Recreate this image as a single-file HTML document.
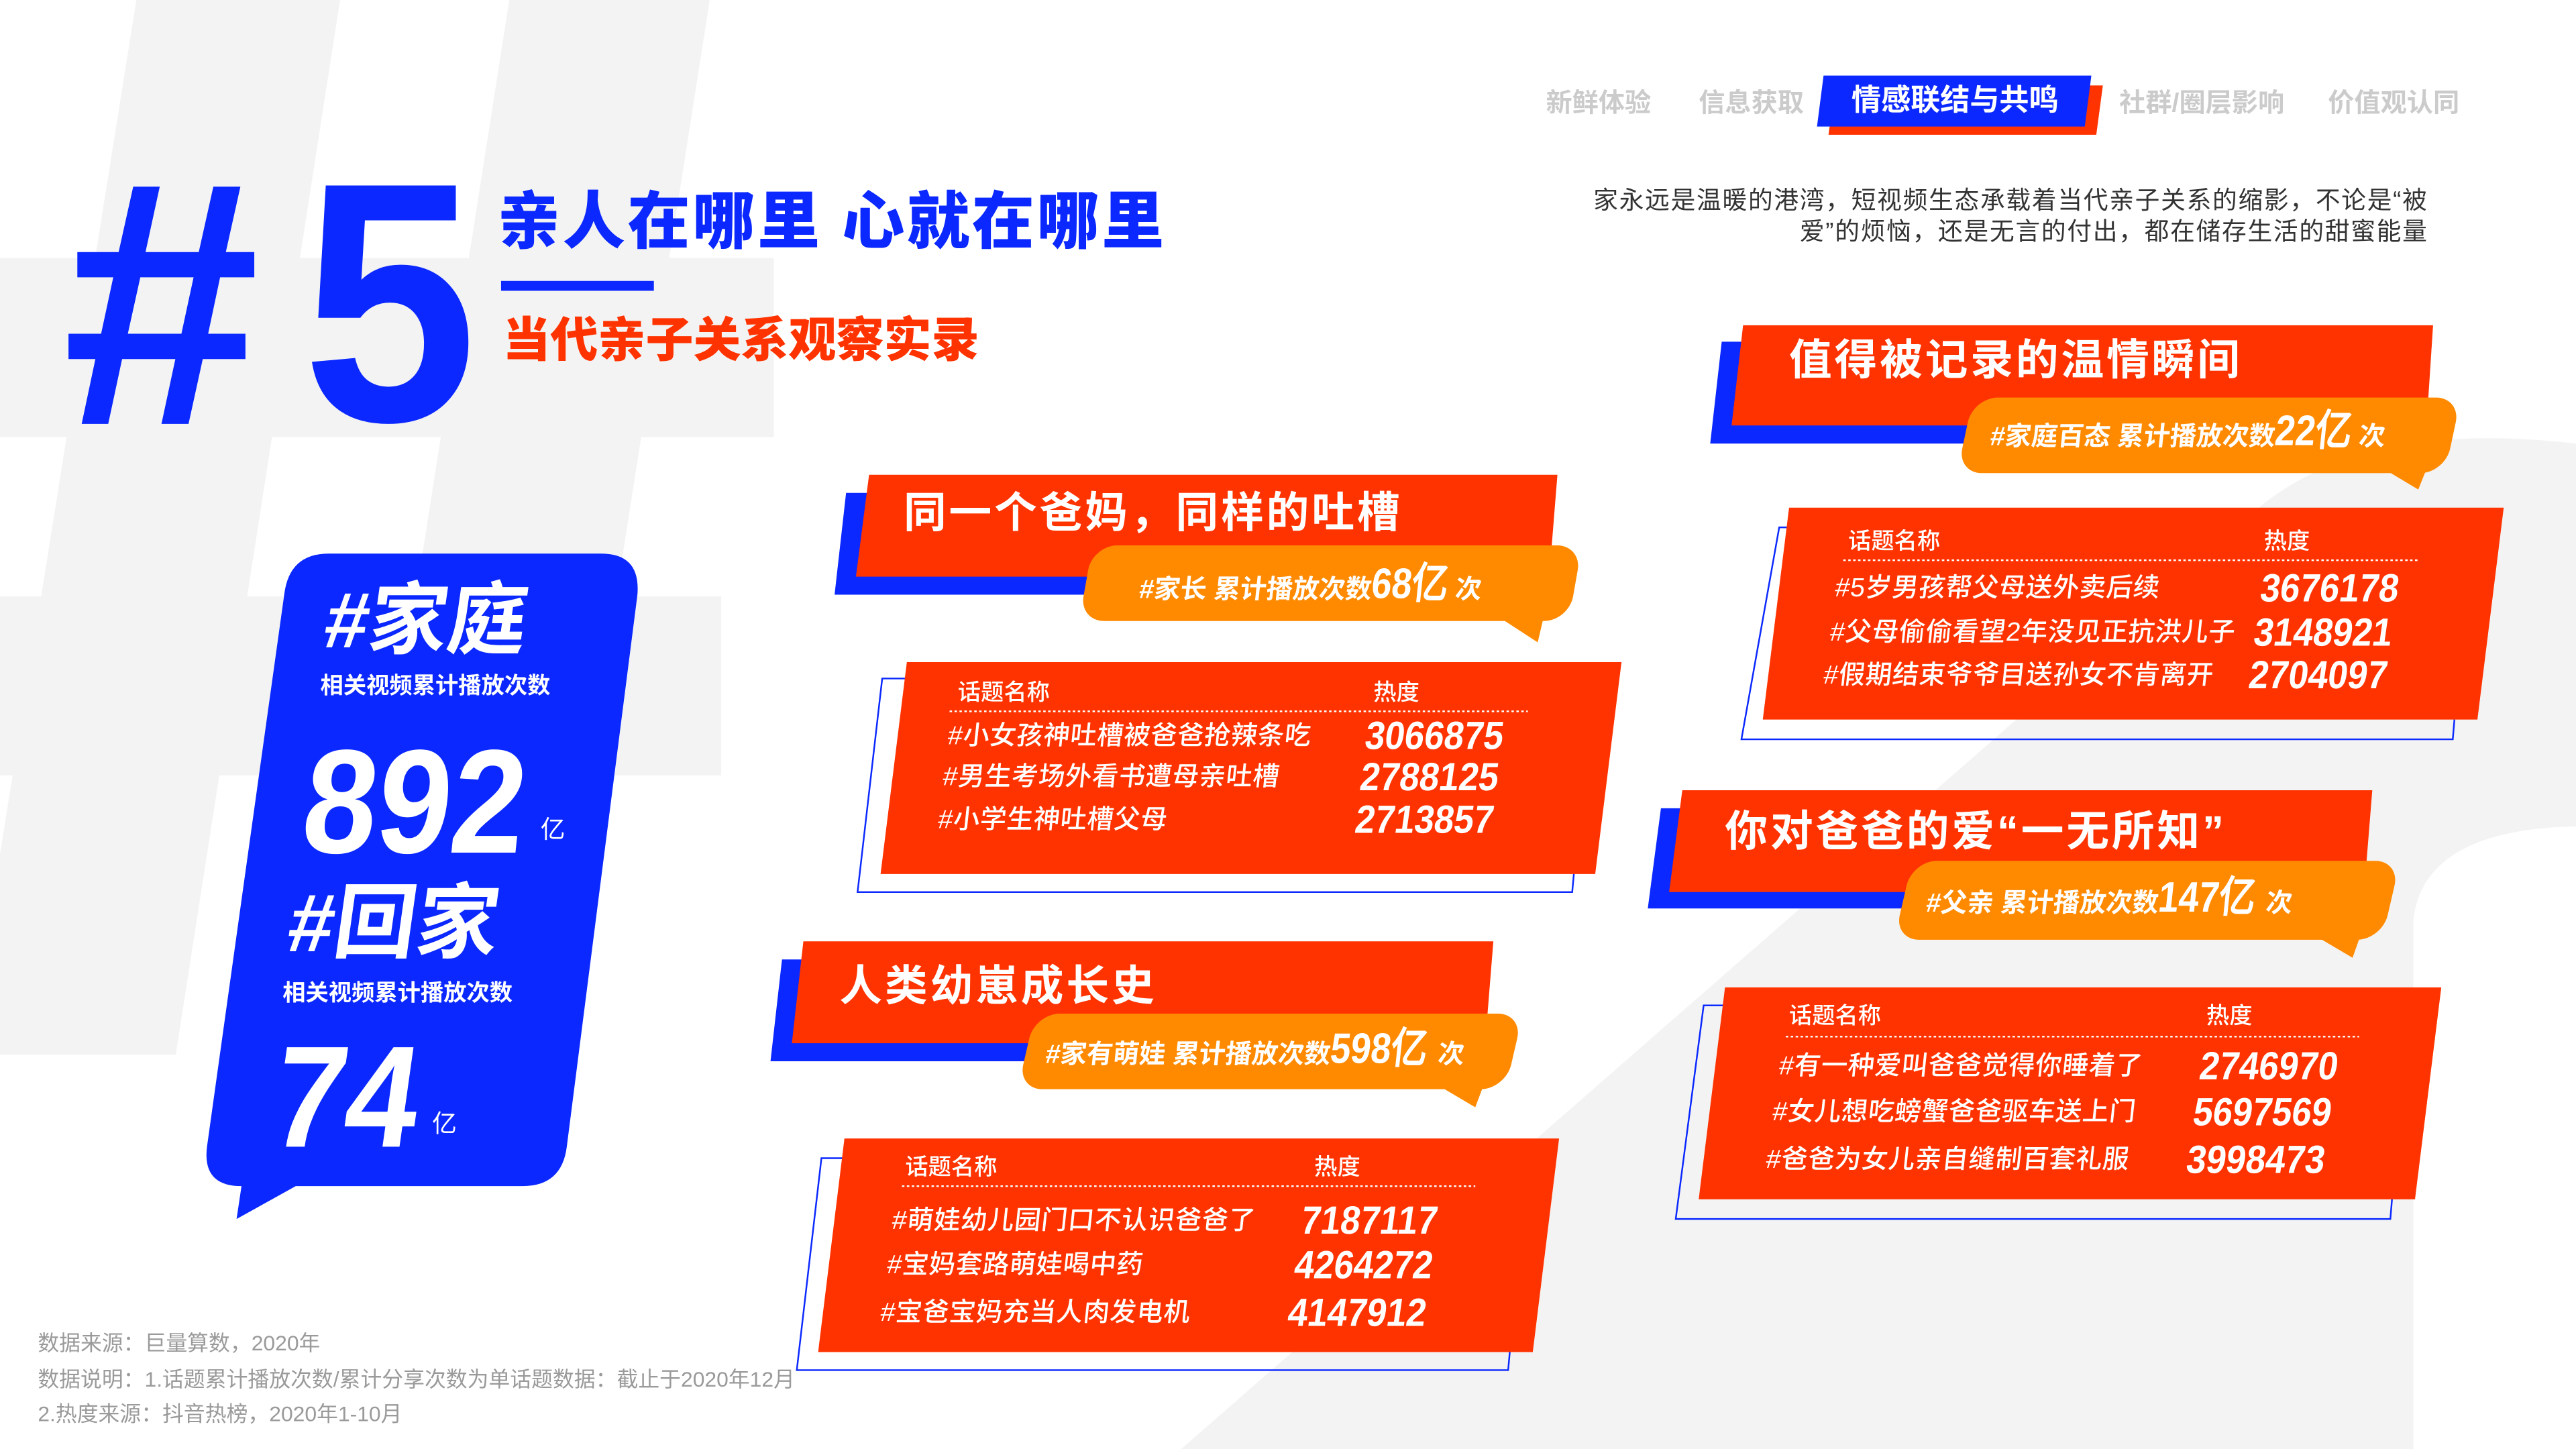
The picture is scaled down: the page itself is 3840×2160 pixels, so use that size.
<!DOCTYPE html>
<html><head><meta charset="utf-8">
<style>
html,body{margin:0;padding:0;width:3840px;height:2160px;overflow:hidden;background:#fff}
#s{position:absolute;left:0;top:0;width:1568px;height:882px;transform:scale(2.44898);transform-origin:0 0;font-family:"Liberation Sans","Noto Sans CJK SC",sans-serif}
.t{position:absolute;white-space:nowrap;line-height:1}
.w{color:#fff}
.ti{font-size:26px;font-weight:700;color:#fff;letter-spacing:1.6px}
.ob{font-size:16px;font-weight:700;color:#fff;transform:skewX(-6deg)}
.ob b{font-size:26px;font-family:"Liberation Sans",sans-serif;font-weight:700;display:inline-block;transform:scaleX(.85);transform-origin:left;margin-right:-4px}
.hd{font-size:14px;font-weight:500;color:#fff}
.nm{font-size:16px;font-weight:500;color:#fff;transform:skewX(-6deg);letter-spacing:.3px}
.nu{font-size:24px;font-weight:700;color:#fff;transform:skewX(-8deg) scaleX(.9);transform-origin:left}
.nav{font-size:16px;font-weight:700;color:#cbcbcb}
.ft{font-size:13px;color:#9a9a9a}
</style></head><body>
<div id="s">
<svg width="1568" height="882" viewBox="0 0 1568 882" style="position:absolute;left:0;top:0">
<g fill="#f3f3f3">
<polygon points="83,0 207,0 107,642 0,642 0,520"/>
<polygon points="310,0 432,0 358,472 236,472"/>
<rect x="0" y="157" width="471" height="109"/>
<rect x="0" y="363" width="439" height="109"/>
<path d="M719,882 L1375,309 Q1440,255 1568,270 L1568,503 Q1475,505 1469,560 L1469,882 Z"/>
</g>
<polygon points="1117,52 1280,52 1276,82 1113,82" fill="#ff3300"/>
<polygon points="1110,46 1273,46 1269,77 1106,77" fill="#0a28ff"/>
<rect x="305" y="171" width="93" height="6" fill="#0a28ff"/>
<path d="M200,337 L366,337 Q390,337 388,362 L345,698 Q342,722 318,722 L180,722 L144,742 L147,722 Q123,722 126,698 L173,362 Q176,337 200,337 Z" fill="#0a28ff"/>
<g fill="#0a28ff">
<polygon points="515,300 900,300 895,362 508,362"/>
<polygon points="1048,208 1300,208 1296,270 1041,270"/>
<polygon points="476,584 880,584 876,646 469,646"/>
<polygon points="1011,492 1400,492 1396,553 1003,553"/>
</g>
<g fill="#ff3300">
<polygon points="529,289 948,289 943,351 521,351"/>
<polygon points="1061,198 1481,198 1477,259 1054,259"/>
<polygon points="489,573 909,573 904,635 482,635"/>
<polygon points="1024,481 1444,481 1439,543 1016,543"/>
</g>
<g fill="#ff8a00">
<rect x="0" y="0" width="298" height="46" rx="15" transform="translate(665,332) skewX(-10)"/>
<polygon points="913,376 940,374 936,391"/>
<rect x="0" y="0" width="297" height="46" rx="15" transform="translate(1201,242) skewX(-12)"/>
<polygon points="1452,286 1478,283 1472,298"/>
<rect x="0" y="0" width="297" height="46" rx="15" transform="translate(630,617) skewX(-13)"/>
<polygon points="876,661 904,658 898,674"/>
<rect x="0" y="0" width="297" height="48" rx="15" transform="translate(1164,524) skewX(-13)"/>
<polygon points="1410,570 1438,566 1432,583"/>
</g>
<g fill="none" stroke="#0a28ff" stroke-width="1">
<polyline points="552,413 537,413 522,543 957,543 958,532"/>
<polyline points="1088,321 1083,321 1060,450 1493,450 1494,438"/>
<polyline points="513,705 500,705 485,834 918,834 919,823"/>
<polyline points="1049,612 1037,612 1020,742 1455,742 1456,730"/>
</g>
<g fill="#ff3300">
<polygon points="552,403 987,403 971,532 536,532"/>
<polygon points="1089,309 1524,309 1508,438 1073,438"/>
<polygon points="514,693 949,693 933,823 498,823"/>
<polygon points="1050,601 1486,601 1470,730 1034,730"/>
</g>
<g stroke="#fff" stroke-width="1" stroke-dasharray="1.5,1.5">
<line x1="578" y1="433" x2="930" y2="433"/>
<line x1="1122" y1="341" x2="1472" y2="341"/>
<line x1="549" y1="722" x2="898" y2="722"/>
<line x1="1087" y1="631" x2="1436" y2="631"/>
</g>
</svg>

<div class="t" style="left:38px;top:79px;font-size:212px;font-weight:700;color:#0a28ff;font-family:'Liberation Sans',sans-serif;transform:scaleX(1.02);transform-origin:left">#</div>
<div class="t" style="left:184px;top:81px;font-size:208px;font-weight:700;color:#0a28ff;font-family:'Liberation Sans',sans-serif;transform:scaleX(.92);transform-origin:left">5</div>

<div class="t" style="left:303px;top:117px;font-size:38px;font-weight:900;color:#0a28ff;letter-spacing:1.5px">亲人在哪里&nbsp;心就在哪里</div>
<div class="t" style="left:306px;top:194px;font-size:29px;font-weight:900;color:#ff3300">当代亲子关系观察实录</div>

<div class="t nav" style="left:941px;top:56px">新鲜体验</div>
<div class="t nav" style="left:1034px;top:56px">信息获取</div>
<div class="t" style="left:1127px;top:52px;font-size:18px;font-weight:700;color:#fff">情感联结与共鸣</div>
<div class="t nav" style="left:1290px;top:56px">社群/圈层影响</div>
<div class="t nav" style="left:1417px;top:56px">价值观认同</div>

<div class="t" style="right:90px;top:113px;font-size:15px;line-height:19px;color:#333;text-align:right;letter-spacing:.7px">家永远是温暖的港湾，短视频生态承载着当代亲子关系的缩影，不论是“被<br>爱”的烦恼，还是无言的付出，都在储存生活的甜蜜能量</div>

<div class="t w" style="left:198px;top:355px;font-size:48px;font-weight:700;transform:skewX(-8deg)">#家庭</div>
<div class="t w" style="left:195px;top:410px;font-size:14px;font-weight:700">相关视频累计播放次数</div>
<div class="t w" style="left:185px;top:444px;font-size:90px;font-weight:700;font-family:'Liberation Sans',sans-serif;transform:skewX(-6deg) scaleX(.9);transform-origin:left">892</div>
<div class="t w" style="left:329px;top:498px;font-size:15px">亿</div>
<div class="t w" style="left:176px;top:537px;font-size:50px;font-weight:700;transform:skewX(-8deg)">#回家</div>
<div class="t w" style="left:172px;top:597px;font-size:14px;font-weight:700">相关视频累计播放次数</div>
<div class="t w" style="left:167px;top:624px;font-size:88px;font-weight:700;font-family:'Liberation Sans',sans-serif;transform:skewX(-8deg) scaleX(.9);transform-origin:left">74</div>
<div class="t w" style="left:263px;top:677px;font-size:15px">亿</div>

<div class="t ti" style="left:550px;top:299px">同一个爸妈，同样的吐槽</div>
<div class="t ti" style="left:1089px;top:206px">值得被记录的温情瞬间</div>
<div class="t ti" style="left:511px;top:587px">人类幼崽成长史</div>
<div class="t ti" style="left:1050px;top:493px">你对爸爸的爱“一无所知”</div>

<div class="t ob" style="left:694px;top:342px">#家长 累计播放次数<b>68亿</b>次</div>
<div class="t ob" style="left:1212px;top:249px">#家庭百态 累计播放次数<b>22亿</b>次</div>
<div class="t ob" style="left:637px;top:625px">#家有萌娃 累计播放次数<b>598亿</b>次</div>
<div class="t ob" style="left:1173px;top:533px">#父亲 累计播放次数<b>147亿</b>次</div>

<div class="t hd" style="left:583px;top:414px">话题名称</div><div class="t hd" style="left:836px;top:414px">热度</div>
<div class="t nm" style="left:577px;top:441px">#小女孩神吐槽被爸爸抢辣条吃</div><div class="t nu" style="left:831px;top:437px">3066875</div>
<div class="t nm" style="left:574px;top:466px">#男生考场外看书遭母亲吐槽</div><div class="t nu" style="left:828px;top:462px">2788125</div>
<div class="t nm" style="left:571px;top:492px">#小学生神吐槽父母</div><div class="t nu" style="left:825px;top:488px">2713857</div>
<div class="t hd" style="left:1125px;top:322px">话题名称</div><div class="t hd" style="left:1378px;top:322px">热度</div>
<div class="t nm" style="left:1117px;top:351px">#5岁男孩帮父母送外卖后续</div><div class="t nu" style="left:1376px;top:347px">3676178</div>
<div class="t nm" style="left:1114px;top:378px">#父母偷偷看望2年没见正抗洪儿子</div><div class="t nu" style="left:1372px;top:374px">3148921</div>
<div class="t nm" style="left:1110px;top:404px">#假期结束爷爷目送孙女不肯离开</div><div class="t nu" style="left:1369px;top:400px">2704097</div>
<div class="t hd" style="left:551px;top:703px">话题名称</div><div class="t hd" style="left:800px;top:703px">热度</div>
<div class="t nm" style="left:543px;top:736px">#萌娃幼儿园门口不认识爸爸了</div><div class="t nu" style="left:792px;top:732px">7187117</div>
<div class="t nm" style="left:540px;top:763px">#宝妈套路萌娃喝中药</div><div class="t nu" style="left:788px;top:759px">4264272</div>
<div class="t nm" style="left:536px;top:792px">#宝爸宝妈充当人肉发电机</div><div class="t nu" style="left:784px;top:788px">4147912</div>
<div class="t hd" style="left:1089px;top:611px">话题名称</div><div class="t hd" style="left:1343px;top:611px">热度</div>
<div class="t nm" style="left:1083px;top:642px">#有一种爱叫爸爸觉得你睡着了</div><div class="t nu" style="left:1339px;top:638px">2746970</div>
<div class="t nm" style="left:1079px;top:670px">#女儿想吃螃蟹爸爸驱车送上门</div><div class="t nu" style="left:1335px;top:666px">5697569</div>
<div class="t nm" style="left:1075px;top:699px">#爸爸为女儿亲自缝制百套礼服</div><div class="t nu" style="left:1331px;top:695px">3998473</div>

<div class="t ft" style="left:23px;top:811px">数据来源：巨量算数，2020年</div>
<div class="t ft" style="left:23px;top:833px">数据说明：1.话题累计播放次数/累计分享次数为单话题数据：截止于2020年12月</div>
<div class="t ft" style="left:23px;top:854px">2.热度来源：抖音热榜，2020年1-10月</div>
</div>
</body></html>
